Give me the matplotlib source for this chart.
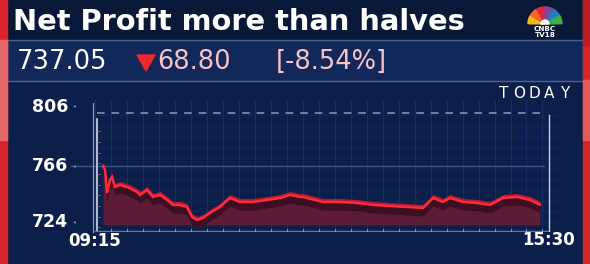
import numpy as np
import matplotlib.pyplot as plt
import matplotlib.transforms as mtransforms
from matplotlib.patches import Rectangle, Wedge, Polygon

# intraday price path, minutes after 09:15 and price
minutes = [6.6, 8.3, 9.9, 12.4, 14.0, 16.5, 20.6, 26.4, 34.7, 37.2, 43.0, 47.9,
           53.7, 59.5, 64.4, 70.2, 76.0, 80.1, 84.2, 89.2, 95.0, 103.2, 111.5,
           119.8, 130.5, 142.1, 152.8, 161.1, 169.3, 171.8, 188.3, 202.4, 216.4,
           229.6, 243.7, 257.7, 270.9, 279.2, 287.4, 293.2, 304.0, 315.5, 326.3,
           337.0, 348.6, 359.3, 367.5]
prices = [766.0, 763.0, 745.8, 755.5, 757.8, 750.3, 751.8, 750.3, 746.5, 744.3,
          748.0, 742.8, 744.3, 740.5, 736.8, 736.8, 735.3, 727.8, 725.5, 727.0,
          730.8, 735.3, 742.0, 739.0, 739.0, 740.5, 742.0, 744.3, 742.8, 742.8,
          739.0, 739.0, 738.3, 736.8, 736.0, 735.3, 734.5, 742.0, 739.0, 742.0,
          739.0, 738.3, 736.8, 742.0, 742.8, 740.5, 737.0]

y_ticks = [724, 766, 806]
prev_close = 806
time_labels = ["09:15", "15:30"]
session_len = 375

title = "Net Profit more than halves"
last_price = "737.05"
change = "68.80"
change_pct = "[-8.54%]"

NAVY_TOP = '#0a1838'
NAVY_ROW = '#12285a'
NAVY_CHART = '#0b1f4a'
RED_STRIP = '#d8232a'

fig = plt.figure(figsize=(5.9, 2.64), dpi=100)
fig.patch.set_facecolor(NAVY_CHART)

bg = fig.add_axes([0, 0, 1, 1])
bg.set_xlim(0, 590)
bg.set_ylim(264, 0)
bg.axis('off')

bg.add_patch(Rectangle((0, 0), 590, 264, color=NAVY_CHART, zorder=0))
bg.add_patch(Rectangle((0, 0), 590, 40, color=NAVY_TOP, zorder=0))
bg.add_patch(Rectangle((7, 40), 576, 41, facecolor=NAVY_ROW, edgecolor='#4a6290', lw=1.0, zorder=1))
bg.add_patch(Rectangle((0, 0), 7, 264, color=RED_STRIP, zorder=2))
bg.add_patch(Rectangle((0, 40), 7, 100, color='#e46868', zorder=2))
bg.add_patch(Rectangle((583, 0), 7, 264, color=RED_STRIP, zorder=2))
bg.add_patch(Rectangle((583, 0), 7, 45, color='#b81e26', zorder=2))
bg.add_patch(Rectangle((583, 80), 7, 60, color='#e05a5a', zorder=2))

bg.text(13, 22, title, color='white', fontsize=20.8, fontweight='bold',
        va='center', ha='left', zorder=3)
bg.text(17, 62, last_price, color='white', fontsize=18.5,
        va='center', ha='left', zorder=3)
bg.add_patch(Polygon([[137, 55], [155, 55], [146, 71]], closed=True, color='#f0262c', zorder=3))
bg.text(157, 62, change, color='#f7c4c4', fontsize=18.5,
        va='center', ha='left', zorder=3)
bg.text(276, 62, change_pct, color='#f7c4c4', fontsize=18.5,
        va='center', ha='left', zorder=3)

# simplified peacock logo
cx, cy = 545, 24
feather_cols = ['#f7b91c', '#f0672a', '#e2263b', '#7b4a9e', '#1f7fc4', '#3fae49']
for i, col in enumerate(feather_cols):
    a0 = 180 - i * 30
    bg.add_patch(Wedge((cx, cy), 17, -a0 + 1, -a0 + 29, color=col, zorder=3))
bg.add_patch(Wedge((cx, cy), 4, 180, 360, color='white', zorder=4))
bg.text(cx, 28.8, "CNBC", color='white', fontsize=5.2, fontweight='bold',
        ha='center', va='center', zorder=5)
bg.text(cx, 35.2, "TV18", color='white', fontsize=5.2, fontweight='bold',
        ha='center', va='center', zorder=5)

for ch, xc in zip("TODAY", [504, 519.5, 534, 549.5, 564.5]):
    bg.text(xc, 94, ch, color='white', fontsize=11, ha='center', va='center', zorder=3)

# chart axes placed so 0 min sits at x=95px and 375 min at x=549px
px_per_min = (549 - 95) / session_len
px_per_unit = 1 / 0.75
left_px, right_px, top_px, bot_px = 92, 560, 100, 232
ax = fig.add_axes([left_px / 590, (264 - bot_px) / 264,
                   (right_px - left_px) / 590, (bot_px - top_px) / 264])
ax.set_xlim((left_px - 95) / px_per_min, (right_px - 95) / px_per_min)
ax.set_ylim(766 - (bot_px - 166) / px_per_unit, 766 + (166 - top_px) / px_per_unit)
ax.patch.set_alpha(0)
ax.axis('off')

t = np.array(minutes)
p = np.array(prices)
base = 721.8

# faint grid
for gx in np.arange(0, session_len, 13.2):
    ax.axvline(gx, color='#17306a', lw=0.6, zorder=0)
for gy in np.arange(724, 812, 8):
    ax.axhline(gy, color='#14295c', lw=0.5, zorder=0)

ax.plot([-20, 371], [766, 766], color='#3b5488', lw=1.0, zorder=1, clip_on=False)
ax.plot([2, 371], [prev_close, prev_close], color='#8c9cb8', lw=1.1,
        dashes=(5, 4.5), zorder=1)

ax.fill_between(t, base, p, color='#5c1b37', lw=0, zorder=2)
ax.fill_between(t, p - 6, p, color='#3c0f22', lw=0, zorder=3)
ax.fill_between(t, p, p + 2.6, color='#b41b30', lw=0, zorder=4)
ax.plot(t, p, color='#ff2a3d', lw=1.8, zorder=5, solid_joinstyle='miter')

# axes frame lines
ax.plot([-1.6, -1.6], [716.6, 813], color='#8c9ab8', lw=0.9, zorder=6, clip_on=False)
ax.plot([1.5, 1.5], [716.6, 801], color='#d5dcea', lw=1.2, zorder=6)
ax.plot([0, 375], [717.2, 717.2], color='#65789c', lw=1.0, zorder=6)
ax.plot([375, 375], [717.2, 804], color='#c9d1e2', lw=1.0, zorder=6)
for gx in np.arange(13.2, session_len, 13.2):
    ax.plot([gx, gx], [717.2, 718.6], color='#8a9ab8', lw=0.7, zorder=6)
for gy in np.arange(720, 800, 8):
    ax.plot([1.5, 4.5], [gy, gy], color='#7282a2', lw=0.5, zorder=6)

lab = mtransforms.blended_transform_factory(bg.transData, ax.transData)
for v in y_ticks:
    dy = 4.3 if v == prev_close else 0
    ax.annotate(str(v), xy=(68, v), xycoords=lab, xytext=(0, dy),
                textcoords='offset points', color='white', fontsize=12.5,
                fontweight='bold', ha='right', va='center',
                annotation_clip=False)
    ax.annotate('\u25c2', xy=(74, v), xycoords=lab, xytext=(0, dy + 0.5),
                textcoords='offset points', color='#8090b0', fontsize=4,
                ha='center', va='center', annotation_clip=False)

tlab = mtransforms.blended_transform_factory(ax.transData, bg.transData)
ax.text(0, 241, time_labels[0], transform=tlab, color='white', fontsize=12,
        fontweight='bold', ha='center', va='center')
ax.text(session_len, 240, time_labels[1], transform=tlab, color='white', fontsize=12,
        fontweight='bold', ha='center', va='center')

fig.savefig('out.png', dpi=100, facecolor=fig.get_facecolor())
